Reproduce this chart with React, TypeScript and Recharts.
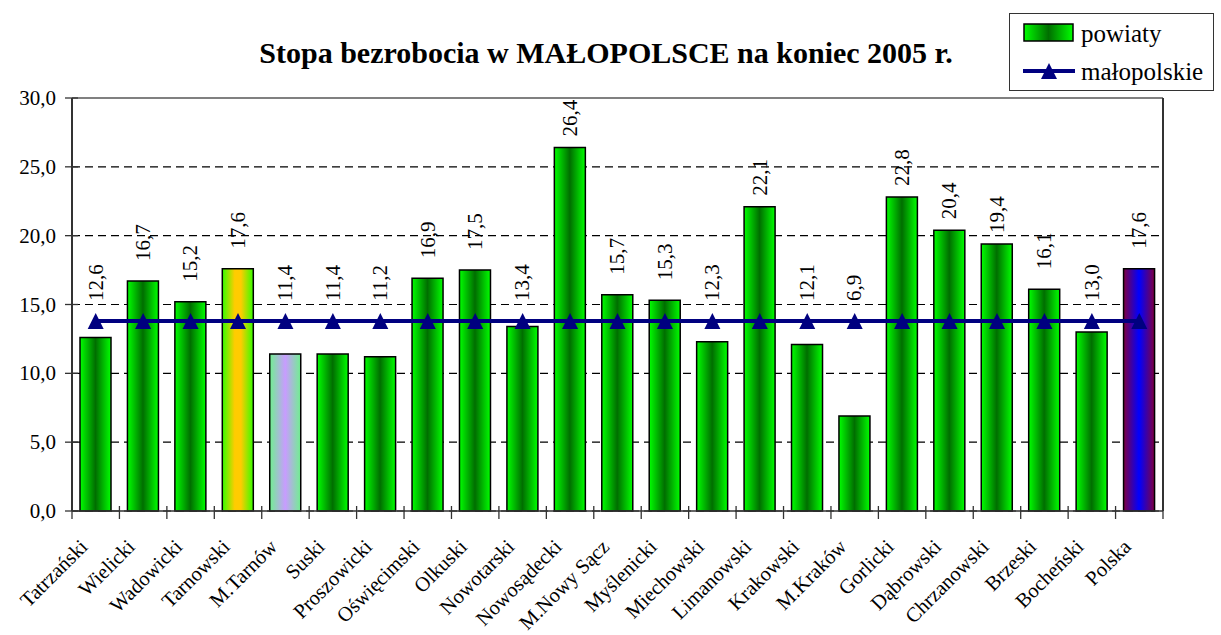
import { ComposedChart, Bar, Line, Cell, XAxis, YAxis, CartesianGrid, ReferenceLine, LabelList } from "recharts"

const CATEGORIES = [
    "Tatrzański", "Wielicki", "Wadowicki", "Tarnowski", "M.Tarnów", "Suski", "Proszowicki",
    "Oświęcimski", "Olkuski", "Nowotarski", "Nowosądecki", "M.Nowy Sącz", "Myślenicki",
    "Miechowski", "Limanowski", "Krakowski", "M.Kraków", "Gorlicki", "Dąbrowski",
    "Chrzanowski", "Brzeski", "Bocheński", "Polska",
]

const POWIATY = [
    12.6, 16.7, 15.2, 17.6, 11.4, 11.4, 11.2, 16.9, 17.5, 13.4, 26.4, 15.7,
    15.3, 12.3, 22.1, 12.1, 6.9, 22.8, 20.4, 19.4, 16.1, 13.0, 17.6,
]

const MALOPOLSKIE = [
    13.8, 13.8, 13.8, 13.8, 13.8, 13.8, 13.8, 13.8, 13.8, 13.8, 13.8, 13.8,
    13.8, 13.8, 13.8, 13.8, 13.8, 13.8, 13.8, 13.8, 13.8, 13.8, 13.8,
]

const Y_TICKS = [0, 5, 10, 15, 20, 25, 30]

const TITLE = "Stopa bezrobocia w MAŁOPOLSCE na koniec 2005 r."

// special bar fills, everything else uses the green gradient
const SPECIAL_FILL: Record<string, string> = {
    "Tarnowski": "url(#gYellow)",
    "M.Tarnów": "url(#gLilac)",
    "Polska": "url(#gBlue)",
}

const FONT = "'Liberation Serif', 'DejaVu Serif', serif"
const NAVY = "#000080"

const data = CATEGORIES.map((name, i) => ({
    name,
    powiaty: POWIATY[i],
    malopolskie: MALOPOLSKIE[i],
}))

const fmt = (v: number) => v.toFixed(1).replace(".", ",")

function XTick(props: any) {
    const { x, y, payload, index } = props
    const half = payload.offset ?? 23.7
    const last = index === CATEGORIES.length - 1
    return (
        <g>
            <line x1={x - half} x2={x - half} y1={y - 5} y2={y + 8} stroke="#333" strokeWidth={1.3} />
            {last && <line x1={x + half} x2={x + half} y1={y - 5} y2={y + 8} stroke="#333" strokeWidth={1.3} />}
            <text
                transform={`translate(${x - 7},${y + 37}) rotate(-45)`}
                textAnchor="end"
                fontFamily={FONT}
                fontSize={20.5}
                fill="#000"
            >
                {payload.value}
            </text>
        </g>
    )
}

function LeftTick(props: any) {
    const { x, y, payload } = props
    return (
        <g>
            <line x1={x - 7} x2={x + 6} y1={y} y2={y} stroke="#333" strokeWidth={1.3} />
            <text x={x - 16} y={y} textAnchor="end" dominantBaseline="central" fontFamily={FONT} fontSize={21} fill="#000">
                {fmt(payload.value)}
            </text>
        </g>
    )
}

function RightTick(props: any) {
    const { x, y, payload } = props
    return (
        <g>
            <line x1={x - 6} x2={x + 7} y1={y} y2={y} stroke="#333" strokeWidth={1.3} />
            <text x={x + 15} y={y} textAnchor="start" dominantBaseline="central" fontFamily={FONT} fontSize={21} fill="#000">
                {fmt(payload.value)}
            </text>
        </g>
    )
}

function Triangle(props: any) {
    const { cx, cy } = props
    if (cx == null || cy == null) return null
    return <path d={`M${cx},${cy - 8} L${cx + 8},${cy + 8} L${cx - 8},${cy + 8} Z`} fill={NAVY} />
}

function BarValue(props: any) {
    const { x, y, width, height, value, index } = props
    if (value == null) return null
    // line position from the bar's own scale (height per unit)
    const perUnit = height / value
    const base = y + height
    const lineY = base - MALOPOLSKIE[index] * perUnit
    // labels just over the line get pushed up a bit more, as in the original
    const gap = y < lineY && lineY - y < 5 * perUnit ? 20 : 11
    const bottom = Math.min(y - gap, lineY - 20)
    const cx = x + width / 2
    return (
        <text
            transform={`translate(${cx},${bottom}) rotate(-90)`}
            textAnchor="start"
            dominantBaseline="central"
            fontFamily={FONT}
            fontSize={21}
            fill="#000"
        >
            {fmt(value)}
        </text>
    )
}

function LegendBox() {
    return (
        <div style={{
            position: "absolute", left: 1009, top: 13, width: 205, height: 78,
            border: "1px solid #333", background: "#fff", boxSizing: "border-box",
        }}>
            <svg width={205} height={78} style={{ position: "absolute", left: 0, top: 0 }}>
                <defs>
                    <linearGradient id="lgGreen" x1="0" y1="0" x2="1" y2="0">
                        <stop offset="0%" stopColor="#00ff00" />
                        <stop offset="50%" stopColor="#006e00" />
                        <stop offset="100%" stopColor="#00ff00" />
                    </linearGradient>
                </defs>
                <rect x={14} y={10} width={49} height={17} fill="url(#lgGreen)" stroke="#000" strokeWidth={1.5} />
                <text x={71} y={19} dominantBaseline="central" fontFamily={FONT} fontSize={25} fill="#000">powiaty</text>
                <line x1={13} x2={65} y1={57} y2={57} stroke={NAVY} strokeWidth={4} />
                <path d="M39,49 L47,65 L31,65 Z" fill={NAVY} />
                <text x={71} y={57} dominantBaseline="central" fontFamily={FONT} fontSize={25} fill="#000">małopolskie</text>
            </svg>
        </div>
    )
}

export default function App() {
    return (
        <div style={{ position: "absolute", left: 0, top: 0, width: 1221, height: 635, background: "#fff", overflow: "hidden" }}>
            <div style={{
                position: "absolute", left: 0, top: 39, width: 1212, textAlign: "center",
                fontFamily: FONT, fontWeight: "bold", fontSize: 30, lineHeight: "28px", color: "#000",
            }}>
                {TITLE}
            </div>
            <ComposedChart
                width={1221}
                height={635}
                data={data}
                margin={{ top: 98, right: 0, bottom: 0, left: 0 }}
            >
                <defs>
                    <linearGradient id="gGreen" x1="0" y1="0" x2="1" y2="0">
                        <stop offset="0%" stopColor="#00ff00" />
                        <stop offset="50%" stopColor="#006e00" />
                        <stop offset="100%" stopColor="#00ff00" />
                    </linearGradient>
                    <linearGradient id="gYellow" x1="0" y1="0" x2="1" y2="0">
                        <stop offset="0%" stopColor="#33ff00" />
                        <stop offset="40%" stopColor="#ffcc00" />
                        <stop offset="60%" stopColor="#ffcc00" />
                        <stop offset="100%" stopColor="#33ff00" />
                    </linearGradient>
                    <linearGradient id="gLilac" x1="0" y1="0" x2="1" y2="0">
                        <stop offset="0%" stopColor="#70f090" />
                        <stop offset="50%" stopColor="#c89cff" />
                        <stop offset="100%" stopColor="#70f090" />
                    </linearGradient>
                    <linearGradient id="gBlue" x1="0" y1="0" x2="1" y2="0">
                        <stop offset="0%" stopColor="#800040" />
                        <stop offset="50%" stopColor="#0000ff" />
                        <stop offset="100%" stopColor="#800040" />
                    </linearGradient>
                </defs>
                <CartesianGrid yAxisId="left" vertical={false} stroke="#000" strokeDasharray="8 5" strokeWidth={1.2} />
                <XAxis
                    dataKey="name"
                    interval={0}
                    height={124}
                    tick={<XTick />}
                    tickLine={false}
                    tickSize={0}
                    tickMargin={0}
                    axisLine={{ stroke: "#333", strokeWidth: 1.5 }}
                />
                <YAxis
                    yAxisId="left"
                    width={72}
                    domain={[0, 30]}
                    ticks={Y_TICKS}
                    tick={<LeftTick />}
                    tickLine={false}
                    tickSize={0}
                    tickMargin={0}
                    axisLine={{ stroke: "#333", strokeWidth: 2 }}
                />
                <YAxis
                    yAxisId="right"
                    orientation="right"
                    width={58}
                    domain={[0, 30]}
                    ticks={Y_TICKS}
                    tick={<RightTick />}
                    tickLine={false}
                    tickSize={0}
                    tickMargin={0}
                    axisLine={{ stroke: "#333", strokeWidth: 2 }}
                />
                <ReferenceLine yAxisId="left" y={30} stroke="#808080" strokeWidth={2} />
                <Bar yAxisId="left" dataKey="powiaty" barSize={31} stroke="#000" strokeWidth={1.5} isAnimationActive={false}>
                    {data.map((d, i) => (
                        <Cell key={`cell-${i}`} fill={SPECIAL_FILL[d.name] ?? "url(#gGreen)"} />
                    ))}
                    <LabelList dataKey="powiaty" content={<BarValue />} />
                </Bar>
                <Line
                    yAxisId="left"
                    dataKey="malopolskie"
                    stroke={NAVY}
                    strokeWidth={4}
                    dot={<Triangle />}
                    activeDot={false}
                    isAnimationActive={false}
                />
            </ComposedChart>
            <LegendBox />
        </div>
    )
}
